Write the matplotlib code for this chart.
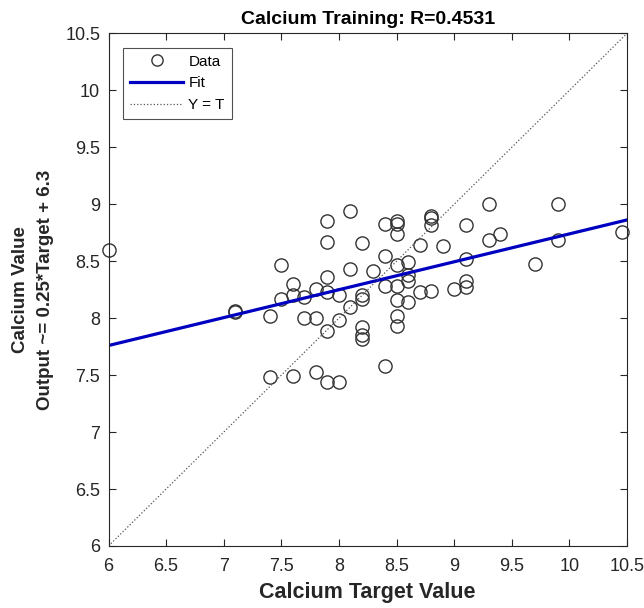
import matplotlib.pyplot as plt
import numpy as np

plt.rcParams['font.family'] = ['Liberation Sans', 'DejaVu Sans']

# target / output pairs
target = [6.0, 7.1, 7.1, 7.4, 7.4, 7.5, 7.5, 7.6, 7.6, 7.6,
          7.7, 7.7, 7.8, 7.8, 7.8, 7.9, 7.9, 7.9, 7.9, 7.9,
          7.9, 8.0, 8.0, 8.0, 8.1, 8.1, 8.1, 8.2, 8.2, 8.2,
          8.2, 8.2, 8.2, 8.3, 8.4, 8.4, 8.4, 8.4, 8.5, 8.5,
          8.5, 8.5, 8.5, 8.5, 8.5, 8.5, 8.6, 8.6, 8.6, 8.6,
          8.7, 8.7, 8.8, 8.8, 8.8, 8.8, 8.9, 9.0, 9.1, 9.1,
          9.1, 9.1, 9.3, 9.3, 9.4, 9.7, 9.9, 9.9, 10.46]
output = [8.60, 8.05, 8.06, 8.02, 7.48, 8.47, 8.17, 8.30, 8.20, 7.49,
          8.19, 8.00, 8.26, 8.00, 7.53, 8.85, 8.67, 8.36, 8.23, 7.89,
          7.44, 8.20, 7.98, 7.44, 8.94, 8.43, 8.10, 8.66, 8.20, 8.17,
          7.92, 7.85, 7.82, 8.41, 8.83, 8.55, 8.28, 7.58, 8.85, 8.83,
          8.74, 8.47, 8.28, 8.16, 8.02, 7.93, 8.49, 8.38, 8.33, 8.14,
          8.64, 8.23, 8.90, 8.88, 8.82, 8.24, 8.63, 8.26, 8.82, 8.52,
          8.33, 8.27, 9.00, 8.69, 8.74, 8.48, 9.00, 8.69, 8.76]

fit_slope = 0.245
fit_intercept = 6.29
r_value = 0.4531

ticks = [6, 6.5, 7, 7.5, 8, 8.5, 9, 9.5, 10, 10.5]
tick_labels = ['6', '6.5', '7', '7.5', '8', '8.5', '9', '9.5', '10', '10.5']

fig = plt.figure(figsize=(6.44, 6.08), dpi=100)
ax = fig.add_axes([0.1685, 0.102, 0.805, 0.843])

xs = np.array([6, 10.5])
ax.plot(target, output, 'o', mfc='none', mec='#333333', ms=9.5, mew=1.0,
        label='Data', clip_on=False)
ax.plot(xs, fit_slope * xs + fit_intercept, color='#0000c0', lw=2.3,
        label='Fit')
ax.plot(xs, xs, ':', color='#555555', lw=0.9, label='Y = T')

ax.set_xlim(6, 10.5)
ax.set_ylim(6, 10.5)
ax.set_xticks(ticks)
ax.set_xticklabels(tick_labels)
ax.set_yticks(ticks)
ax.set_yticklabels(tick_labels)
ax.tick_params(direction='in', top=True, right=True, labelsize=13,
               colors='#262626', length=5)
ax.tick_params(axis='x', pad=9)
ax.tick_params(axis='y', pad=6)
for s in ax.spines.values():
    s.set_color('#262626')

ax.set_title('Calcium Training: R=%.4f' % r_value, fontsize=14,
             fontweight='bold', pad=7)
ax.set_xlabel('Calcium Target Value', fontsize=15.5, fontweight='bold',
              color='#262626', labelpad=5)
ax.set_ylabel('Calcium Value\nOutput ~= 0.25*Target + 6.3', fontsize=13.5,
              fontweight='bold', color='#262626', linespacing=1.6,
              labelpad=8)

leg = ax.legend(loc='upper left', fontsize=11, fancybox=False,
                edgecolor='#262626', borderaxespad=0.95, handlelength=3.5,
                handletextpad=0.33, labelspacing=0.5, borderpad=0.45,
                markerscale=0.85)
leg.get_frame().set_linewidth(0.8)

fig.savefig('out.png')
